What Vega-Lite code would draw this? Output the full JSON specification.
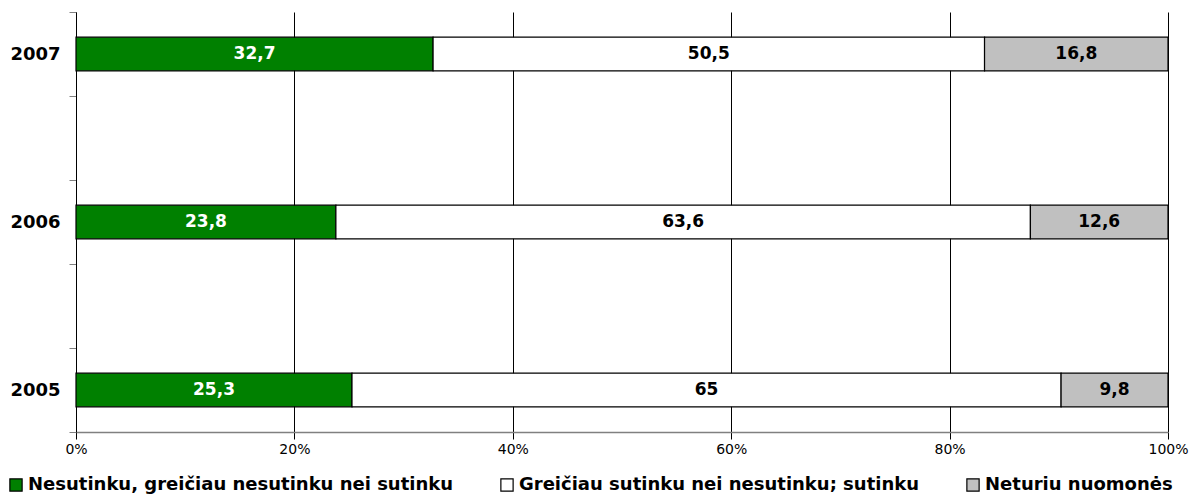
{
  "$schema": "https://vega.github.io/schema/vega-lite/v6.json",
  "autosize": {"type": "none"},
  "padding": {"left": 76, "top": 12, "right": 29, "bottom": 65},
  "width": 1092,
  "height": 420,
  "background": "white",
  "config": {
    "font": "DejaVu Sans",
    "view": {"stroke": null},
    "locale": {"number": {"decimal": ",", "thousands": " ", "grouping": [3], "currency": ["", " €"]}}
  },
  "data": {
    "values": [
      {"year": "2007", "category": "Nesutinku, greičiau nesutinku nei sutinku", "rank": 1, "value": 32.7},
      {"year": "2007", "category": "Greičiau sutinku nei nesutinku; sutinku", "rank": 2, "value": 50.5},
      {"year": "2007", "category": "Neturiu nuomonės", "rank": 3, "value": 16.8},
      {"year": "2006", "category": "Nesutinku, greičiau nesutinku nei sutinku", "rank": 1, "value": 23.8},
      {"year": "2006", "category": "Greičiau sutinku nei nesutinku; sutinku", "rank": 2, "value": 63.6},
      {"year": "2006", "category": "Neturiu nuomonės", "rank": 3, "value": 12.6},
      {"year": "2005", "category": "Nesutinku, greičiau nesutinku nei sutinku", "rank": 1, "value": 25.3},
      {"year": "2005", "category": "Greičiau sutinku nei nesutinku; sutinku", "rank": 2, "value": 65},
      {"year": "2005", "category": "Neturiu nuomonės", "rank": 3, "value": 9.8}
    ]
  },
  "encoding": {
    "y": {
      "field": "year", "type": "nominal",
      "scale": {"domain": ["2007", "_a", "2006", "_b", "2005"], "paddingInner": 0, "paddingOuter": 0},
      "axis": {
        "title": null,
        "tickBand": "extent",
        "labelExpr": "indexof(datum.label, '_') == 0 ? '' : datum.label",
        "labelFont": "DejaVu Sans", "labelFontWeight": "bold", "labelFontSize": 18, "labelColor": "#000",
        "labelPadding": 9,
        "domainColor": "#000", "domainWidth": 1,
        "tickColor": "#808080", "tickSize": 7, "tickWidth": 1,
        "grid": false
      }
    }
  },
  "layer": [
    {
      "mark": {"type": "bar", "height": {"band": 0.4}, "stroke": "#000", "strokeWidth": 1.2},
      "encoding": {
        "x": {
          "field": "value", "type": "quantitative", "stack": "normalize",
          "scale": {"domain": [0, 1], "nice": false},
          "axis": {
            "title": null, "format": ".0%", "values": [0, 0.2, 0.4, 0.6, 0.8, 1],
            "labelOverlap": false,
            "grid": true, "gridColor": "#000", "gridWidth": 1,
            "domainColor": "#808080", "domainWidth": 1.5,
            "tickColor": "#000", "tickSize": 7,
            "labelFontSize": 14, "labelColor": "#000", "labelPadding": 3, "labelFlush": false
          }
        },
        "color": {
          "field": "category", "type": "nominal",
          "scale": {
            "domain": ["Nesutinku, greičiau nesutinku nei sutinku", "Greičiau sutinku nei nesutinku; sutinku", "Neturiu nuomonės"],
            "range": ["#008000", "#FFFFFF", "#C0C0C0"]
          },
          "legend": {
            "title": null, "orient": "none", "direction": "horizontal",
            "legendX": -69, "legendY": 464,
            "symbolType": "square", "symbolSize": 150, "symbolStrokeColor": "#000", "symbolStrokeWidth": 1.2,
            "labelFontSize": 18, "labelFontWeight": "bold", "labelColor": "#000", "labelOffset": 3,
            "columnPadding": 44, "labelLimit": 600
          }
        },
        "order": {"field": "rank", "type": "quantitative"}
      }
    },
    {
      "mark": {"type": "text", "fontWeight": "bold", "fontSize": 17},
      "encoding": {
        "x": {
          "field": "value", "type": "quantitative", "stack": "normalize", "bandPosition": 0.5,
          "axis": {
            "title": null, "format": ".0%", "values": [0, 0.2, 0.4, 0.6, 0.8, 1],
            "labelOverlap": false,
            "grid": true, "gridColor": "#000", "gridWidth": 1,
            "domainColor": "#808080", "domainWidth": 1.5,
            "tickColor": "#000", "tickSize": 7,
            "labelFontSize": 14, "labelColor": "#000", "labelPadding": 3, "labelFlush": false
          }
        },
        "text": {"field": "value", "type": "quantitative", "format": ".1~f"},
        "color": {
          "condition": {"test": "datum.rank == 1", "value": "#FFFFFF"},
          "value": "#000000"
        },
        "detail": {"field": "category"},
        "order": {"field": "rank", "type": "quantitative"}
      }
    }
  ]
}
